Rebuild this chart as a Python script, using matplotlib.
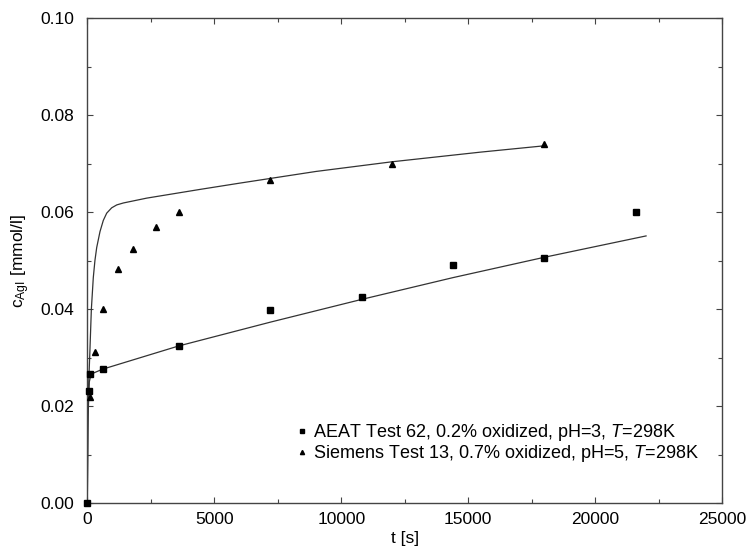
import matplotlib
matplotlib.use("Agg")
import matplotlib.pyplot as plt
from matplotlib.ticker import MultipleLocator

plt.rcParams['font.family'] = ['Liberation Sans', 'DejaVu Sans']
plt.rcParams['mathtext.fontset'] = 'custom'
plt.rcParams['mathtext.rm'] = 'Liberation Sans'
plt.rcParams['mathtext.it'] = 'Liberation Sans:italic'

# measured points
aeat_t = [0, 60, 120, 600, 3600, 7200, 10800, 14400, 18000, 21600]
aeat_c = [0.0, 0.0231, 0.0266, 0.0276, 0.0324, 0.0398, 0.0426, 0.0490, 0.0505, 0.0600]

siem_t = [120, 300, 600, 1200, 1800, 2700, 3600, 7200, 12000, 18000]
siem_c = [0.0219, 0.0312, 0.0400, 0.0482, 0.0525, 0.0569, 0.0600, 0.0666, 0.0699, 0.0741]

# model curves
aeat_fit_t = [0, 30, 80, 150, 600, 3600, 7200, 10800, 14400, 18000, 22000]
aeat_fit_c = [0.0, 0.018, 0.025, 0.0266, 0.0276, 0.0324, 0.0373, 0.0420, 0.0465, 0.0507, 0.0551]

siem_fit_t = [0, 20, 50, 100, 160, 236, 300, 370, 500, 630, 764, 960, 1160, 1420, 2340,
              4440, 6010, 9000, 12000, 15500, 18000]
siem_fit_c = [0.0, 0.015, 0.024, 0.031, 0.040, 0.0465, 0.0500, 0.0527, 0.0560, 0.0583, 0.0598,
              0.0609, 0.0615, 0.0619, 0.0629, 0.0647, 0.0660, 0.0684, 0.0704, 0.0724, 0.0737]

labels = ['AEAT Test 62, 0.2% oxidized, pH=3, $T$=298K',
          'Siemens Test 13, 0.7% oxidized, pH=5, $T$=298K']

fig = plt.figure(figsize=(7.5, 5.5), dpi=100)
ax = fig.add_axes([0.1164, 0.0855, 0.8466, 0.8812])

line_col = '#333333'
ax.plot(aeat_fit_t, aeat_fit_c, color=line_col, lw=0.9)
ax.plot(siem_fit_t, siem_fit_c, color=line_col, lw=0.9)
ax.plot(aeat_t, aeat_c, 's', color='black', ms=4.5, label=labels[0], clip_on=False, zorder=3)
ax.plot(siem_t, siem_c, '^', color='black', ms=5, label=labels[1], clip_on=False, zorder=3)

ax.set_xlim(0, 25000)
ax.set_ylim(0, 0.10)
ax.xaxis.set_major_locator(MultipleLocator(5000))
ax.xaxis.set_minor_locator(MultipleLocator(2500))
ax.yaxis.set_major_locator(MultipleLocator(0.02))
ax.yaxis.set_minor_locator(MultipleLocator(0.01))
ax.yaxis.set_major_formatter(matplotlib.ticker.FormatStrFormatter('%.2f'))
ax.tick_params(which='both', direction='in', top=True, right=True, labelsize=12.5,
               color='#444444', width=0.8)
ax.tick_params(which='major', length=4.5)
ax.tick_params(which='minor', length=3)
ax.tick_params(axis='y', which='major', pad=9.5)
ax.tick_params(axis='x', which='major', pad=6.5)
for s in ax.spines.values():
    s.set_color('#444444')
    s.set_linewidth(1.0)

ax.set_xlabel('t [s]', fontsize=12.5, labelpad=3)
ax.set_ylabel(r'c$_{\mathrm{AgI}}$ [mmol/l]', fontsize=12.5, labelpad=6)

ax.legend(loc='center left', bbox_to_anchor=(0.316, 0.123), frameon=False, fontsize=13,
          markerscale=0.6, handlelength=0.6, handletextpad=0.3, labelspacing=0.0,
          borderpad=0)

fig.savefig('out.png', dpi=100)
